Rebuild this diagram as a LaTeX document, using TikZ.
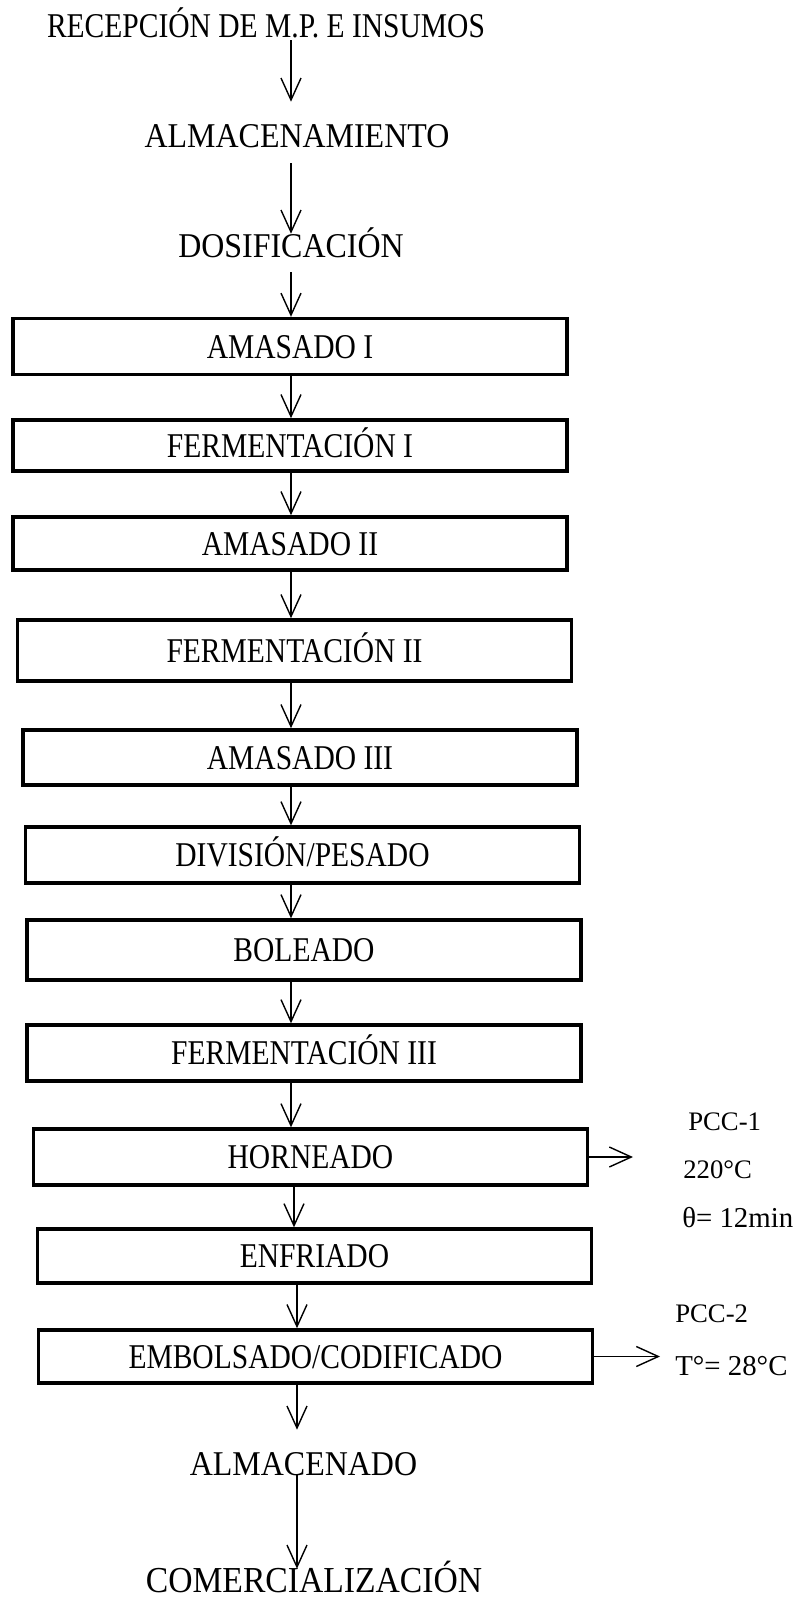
\documentclass[tikz,border=0pt]{standalone}
\usepackage{fontspec}
\setmainfont{Liberation Serif}
\newfontfamily\angosta{Liberation Serif}[FakeStretch=0.85]
\newfontfamily\media{Liberation Serif}[FakeStretch=0.92]
\usepackage{tikz}
\usetikzlibrary{positioning,arrows.meta}

\begin{document}
\begin{tikzpicture}[x=0.025cm, y=-0.025cm,
    caja/.style={draw, line width=2.4pt, minimum width=13.85cm, minimum height=1.4cm,
        inner sep=0pt, text height=0.575cm, text depth=0pt, font=\angosta\fontsize{24.7}{28}\selectfont},
    texto/.style={inner sep=0pt, text height=0.575cm, text depth=0pt, font=\angosta\fontsize{24.7}{28}\selectfont},
    textog/.style={texto, font=\media\fontsize{24.7}{28}\selectfont},
    nota/.style={anchor=base west, inner sep=0pt, font=\fontsize{19}{23}\selectfont},
    notag/.style={nota, font=\fontsize{20.5}{24}\selectfont},
    flecha/.style={line width=1pt, -{Straight Barb[length=0.55cm, width=0.5cm, line width=1pt]}}]
    \useasboundingbox (0,0) rectangle (800,1599);

    % Ejes de las flechas
    \coordinate (ejeA) at (291,0);
    \coordinate (ejeB) at (294,0);
    \coordinate (ejeC) at (297,0);

    % Etapas iniciales
    \node[texto, anchor=base] (recep) at (266,37) {RECEPCIÓN DE M.P. E INSUMOS};
    \node[textog, anchor=base] (almac) at (297,147) {ALMACENAMIENTO};
    \node[textog, anchor=base] (dosif) at (291,257) {DOSIFICACIÓN};

    % Etapas del proceso
    \node[caja] (amas1) at (290,346.5) {AMASADO I};
    \node[caja, minimum height=1.28cm] (ferm1) at (290,445.5) {FERMENTACIÓN I};
    \node[caja, minimum height=1.33cm] (amas2) at (290,543.5) {AMASADO II};
    \node[caja, minimum height=1.53cm] (ferm2) at (294.5,650.5) {FERMENTACIÓN II};
    \node[caja, minimum height=1.38cm] (amas3) at (300,757.5) {AMASADO III};
    \node[caja] (divis) at (302.5,855) {DIVISIÓN/PESADO};
    \node[caja, minimum height=1.5cm] (bolea) at (304,950) {BOLEADO};
    \node[caja] (ferm3) at (304,1053) {FERMENTACIÓN III};
    \node[caja] (horne) at (310.5,1157) {HORNEADO};
    \node[caja, minimum height=1.35cm] (enfri) at (314.5,1256) {ENFRIADO};
    \node[caja, minimum height=1.33cm] (embol) at (315.5,1356.5) {EMBOLSADO/CODIFICADO};

    % Etapas finales
    \node[textog, anchor=base] (almdo) at (303.5,1475) {ALMACENADO};
    \node[textog, anchor=base, font=\media\fontsize{26}{30}\selectfont] (comer) at (314,1592) {COMERCIALIZACIÓN};

    % Flechas
    \draw[flecha, shorten <=0.075cm, shorten >=0.55cm] (recep.south -| ejeA) -- (almac.north -| ejeA);
    \draw[flecha, shorten <=0.4cm] (almac.south -| ejeA) -- (dosif.north -| ejeA);
    \draw[flecha, shorten <=0.375cm] (dosif.south -| ejeA) -- (amas1.north -| ejeA);
    \foreach \a/\b/\e in {amas1/ferm1/ejeA, ferm1/amas2/ejeA, amas2/ferm2/ejeA, ferm2/amas3/ejeA,
        amas3/divis/ejeA, divis/bolea/ejeA, bolea/ferm3/ejeA, ferm3/horne/ejeA,
        horne/enfri/ejeB, enfri/embol/ejeC} {
        \draw[flecha] (\a.south -| \e) -- (\b.north -| \e);
    }
    \draw[flecha, shorten >=0.55cm] (embol.south -| ejeC) -- (almdo.north -| ejeC);
    \draw[flecha] (almdo.south -| ejeC) -- (comer.north -| ejeC);

    % Puntos criticos de control
    \coordinate (pcc1) at (633,1157);
    \coordinate (pcc2) at (660,1356.5);
    \draw[flecha] (horne.east) -- (pcc1);
    \draw[flecha] (embol.east) -- (pcc2);
    \node[nota] (n1) at (688,1130) {PCC-1};
    \node[nota] (n2) at (683,1178) {220°C};
    \node[notag] (n3) at (682,1227) {θ= 12min};
    \node[nota] (n4) at (675,1322) {PCC-2};
    \node[notag] (n5) at (675,1375) {T°= 28°C};
\end{tikzpicture}
\end{document}
